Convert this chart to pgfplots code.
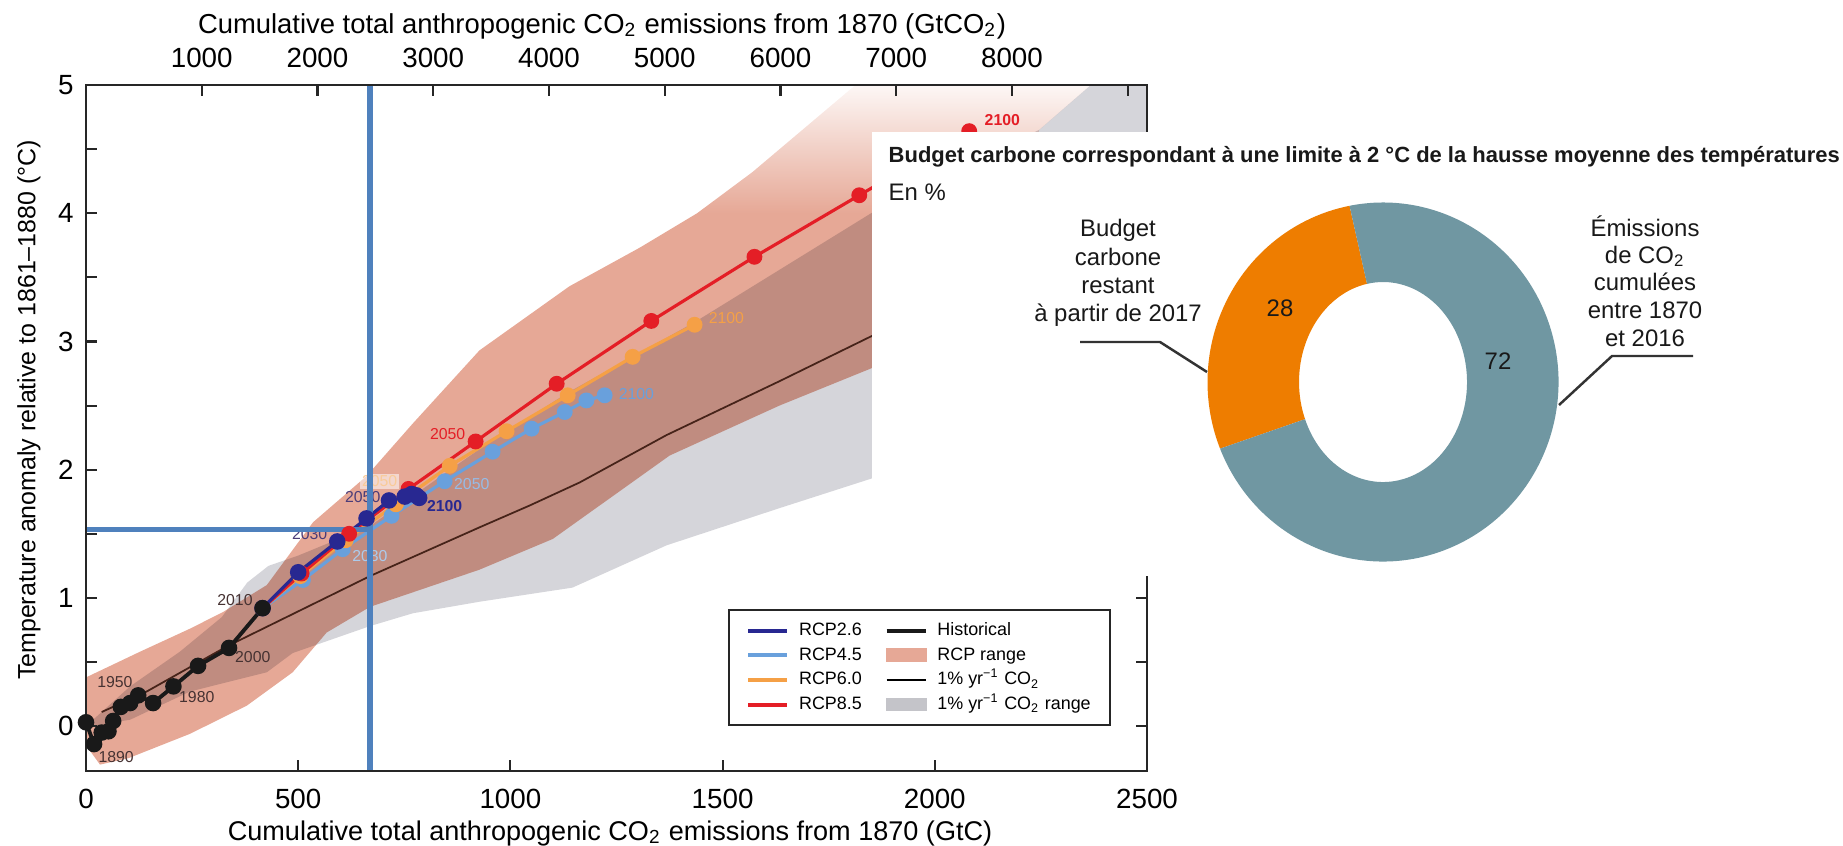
\documentclass[border=0pt]{standalone}
\usepackage{fontspec}
\setmainfont{Liberation Sans}
\usepackage{pgfplots}
\pgfplotsset{compat=1.18}
\definecolor{rcprange}{RGB}{230,168,150}
\definecolor{grayrange}{RGB}{213,213,218}
\definecolor{rcpA}{RGB}{40,40,145}
\definecolor{rcpB}{RGB}{105,160,220}
\definecolor{rcpC}{RGB}{245,160,70}
\definecolor{rcpD}{RGB}{228,30,38}
\definecolor{histc}{RGB}{25,25,25}
\definecolor{onepct}{RGB}{70,35,25}
\definecolor{guide}{RGB}{79,129,189}
\definecolor{donorange}{RGB}{238,125,0}
\definecolor{donteal}{RGB}{112,151,162}
\definecolor{yearc}{RGB}{70,50,50}
\newcommand{\yl}{\fontsize{4.5}{5}\selectfont}
\newcommand{\dfont}{\fontsize{6.8}{7.4}\selectfont}
\begin{document}
\begin{tikzpicture}
\path[use as bounding box] (0,0) rectangle (18.43,8.45);
% ---------------- main axis (GtC) ----------------
\begin{axis}[
  at={(0.86cm,0.74cm)}, anchor=south west,
  width=10.61cm, height=6.86cm, scale only axis,
  xmin=0, xmax=2500, ymin=-0.35, ymax=5,
  xtick={0,500,...,2500}, xtick pos=left,
  ytick={0,1,...,5}, minor ytick={0.5,1.5,2.5,3.5,4.5},
  ytick pos=both,
  tick align=inside,
  major tick length=0.11cm, minor tick length=0.11cm,
  axis line style={line width=0.6pt, black!85},
  every tick/.style={line width=0.6pt, black!85},
  tick label style={font=\fontsize{7.9}{9}\selectfont},
  xticklabel style={yshift=-1.5pt},
  /pgf/number format/assume math mode=true,
  /pgf/number format/1000 sep={},
  axis on top,
  legend style={
    at={(0.605,0.0656)}, anchor=south west,
    draw=black!85, line width=0.5pt, fill=white,
    font=\fontsize{5.1}{6}\selectfont,
    inner xsep=5pt, inner ysep=3pt,
    row sep=1.3pt, column sep=0pt,
    nodes={inner sep=0.5pt, text height=3.7pt, text depth=1pt},
    /tikz/every odd column/.append style={column sep=2.3pt},
    /tikz/every even column/.append style={column sep=6pt},
  },
  legend columns=2,
  legend cell align=left,
  legend image code/.code={\draw[#1] (0cm,0cm) -- (0.39cm,0cm);},
]
% RCP range (salmon)
\addplot[forget plot, draw=none, fill=rcprange] coordinates {
 (0,0.38) (127,0.58) (245,0.76) (323,0.89) (426,1.10) (535,1.59) (661,1.95)
 (770,2.36) (927,2.93) (1139,3.43) (1304,3.73) (1440,4.0) (2200,4.0) (2200,3.5)
 (1850,2.79) (1634,2.50) (1375,2.11) (1100,1.46) (927,1.22) (669,0.93) (567,0.73)
 (487,0.42) (379,0.16) (245,-0.06) (100,-0.25) (33,-0.30) (0,-0.15)} -- cycle;
% fading top part of RCP range
\addplot[forget plot, draw=none, top color=white, bottom color=rcprange] coordinates {
 (1440,4.0) (1570,4.32) (1806,4.98) (1850,5.1) (2403,5.1) (2246,4.65) (2200,4.0)} -- cycle;
% 1% yr-1 CO2 range (gray), multiplied over the RCP range
\addplot[forget plot, draw=none, fill=grayrange, blend mode=multiply] coordinates {
 (0,0) (104,0.31) (221,0.58) (320,0.85) (380,1.12) (430,1.25) (500,1.33) (669,1.56)
 (927,2.16) (1135,2.6) (1434,3.15) (1850,4.0) (2246,4.65) (2420,5.15) (2600,5.67)
 (2600,2.7) (2100,2.2) (1850,1.93) (1634,1.70) (1368,1.41) (1146,1.08) (927,0.97)
 (770,0.88) (669,0.78) (487,0.57) (426,0.42) (245,0.27) (104,0.05) (10,0)} -- cycle;
% 1% yr-1 CO2 line
\addplot[forget plot, onepct, line width=0.5pt] coordinates {
 (37,0.11) (143,0.27) (331,0.62) (669,1.17) (927,1.55) (1045,1.72) (1163,1.90)
 (1368,2.27) (1634,2.69) (1850,3.04) (2500,3.9)};
% RCP4.5
\addplot[forget plot, rcpB, line width=0.9pt, mark=*, mark size=1.8pt] coordinates {
 (416,0.92) (511,1.14) (605,1.38) (720,1.64) (845,1.91) (958,2.14) (1050,2.32)
 (1128,2.45) (1179,2.54) (1222,2.58)};
% RCP6.0
\addplot[forget plot, rcpC, line width=0.9pt, mark=*, mark size=1.8pt] coordinates {
 (416,0.92) (505,1.17) (612,1.45) (730,1.73) (857,2.03) (991,2.30) (1135,2.58)
 (1288,2.88) (1434,3.13)};
% RCP8.5
\addplot[forget plot, rcpD, line width=0.9pt, mark=*, mark size=1.8pt] coordinates {
 (416,0.92) (508,1.19) (620,1.50) (760,1.85) (918,2.22) (1109,2.67) (1332,3.16)
 (1575,3.66) (1822,4.14) (2081,4.64)};
% RCP2.6
\addplot[forget plot, rcpA, line width=0.9pt, mark=*, mark size=1.9pt] coordinates {
 (416,0.92) (500,1.20) (592,1.44) (661,1.62) (714,1.76) (751,1.79) (767,1.81)
 (778,1.80) (785,1.78)};
% Historical
\addplot[forget plot, histc, line width=1.1pt, mark=*, mark size=1.8pt] coordinates {
 (0,0.03) (19,-0.14) (37,-0.05) (53,-0.04) (64,0.04) (82,0.15) (104,0.18)
 (123,0.24) (158,0.18) (206,0.31) (264,0.47) (337,0.61) (416,0.92)};
% year labels
\node[font=\yl, text=yearc] at (axis cs:71,-0.24) {1890};
\node[font=\yl, text=yearc] at (axis cs:68,0.34) {1950};
\node[font=\yl, text=yearc] at (axis cs:261,0.23) {1980};
\node[font=\yl, text=yearc] at (axis cs:393,0.54) {2000};
\node[font=\yl, text=yearc] at (axis cs:351,0.98) {2010};
\node[font=\yl, text={rgb,255:red,75;green,60;blue,120}] at (axis cs:527,1.50) {2030};
\node[font=\yl, text={rgb,255:red,75;green,60;blue,120}] at (axis cs:652,1.79) {2050};
\node[font=\yl\bfseries, text=rcpA] at (axis cs:845,1.72) {2100};
\node[font=\yl, fill=white, fill opacity=0.55, text opacity=1, text=rcpC!55, inner sep=0.6pt] at (axis cs:692,1.91) {2050};
\node[font=\yl, text=rcpB!55] at (axis cs:669,1.33) {2030};
\node[font=\yl, text=rcpB!70] at (axis cs:909,1.89) {2050};
\node[font=\yl, text=rcpB] at (axis cs:1297,2.59) {2100};
\node[font=\yl, text=rcpC] at (axis cs:1509,3.18) {2100};
\node[font=\yl, text=rcpD] at (axis cs:852,2.28) {2050};
\node[font=\yl\bfseries, text=rcpD] at (axis cs:2159,4.73) {2100};
% guide lines
\addplot[forget plot, guide, line width=1.5pt] coordinates {(669,-0.35) (669,5)};
\addplot[forget plot, guide, line width=1.4pt] coordinates {(0,1.53) (669,1.53)};
% legend
\addlegendimage{rcpA, line width=1.1pt}\addlegendentry{RCP2.6}
\addlegendimage{histc, line width=1.1pt}\addlegendentry{Historical}
\addlegendimage{rcpB, line width=1.1pt}\addlegendentry{RCP4.5}
\addlegendimage{legend image code/.code={\fill[rcprange] (0cm,-0.06cm) rectangle (0.4cm,0.06cm);}}\addlegendentry{RCP range}
\addlegendimage{rcpC, line width=1.1pt}\addlegendentry{RCP6.0}
\addlegendimage{black, line width=0.5pt}\addlegendentry{1\% yr\textsuperscript{−1} CO\textsubscript{2}}
\addlegendimage{rcpD, line width=1.1pt}\addlegendentry{RCP8.5}
\addlegendimage{legend image code/.code={\fill[grayrange!92!black] (0cm,-0.06cm) rectangle (0.4cm,0.06cm);}}\addlegendentry{1\% yr\textsuperscript{−1} CO\textsubscript{2} range}
\end{axis}
% ---------------- top axis (GtCO2) ----------------
\begin{axis}[
  at={(0.86cm,0.74cm)}, anchor=south west,
  width=10.61cm, height=6.86cm, scale only axis,
  xmin=0, xmax=9166.67, ymin=0, ymax=1,
  axis x line*=top, axis y line=none,
  xtick={1000,2000,...,9000},
  xticklabels={1000,2000,3000,4000,5000,6000,7000,8000,{}},
  tick align=inside, major tick length=0.11cm,
  axis line style={line width=0.6pt, black!85},
  every tick/.style={line width=0.6pt, black!85},
  tick label style={font=\fontsize{7.9}{9}\selectfont},
  xticklabel style={yshift=1.5pt},
]
\end{axis}
% axis titles
\node[font=\fontsize{7.8}{9}\selectfont] at (6.02,8.19) {Cumulative total anthropogenic CO\textsubscript{2} emissions from 1870 (GtCO\textsubscript{2})};
\node[font=\fontsize{7.7}{9}\selectfont] at (6.10,0.12) {Cumulative total anthropogenic CO\textsubscript{2} emissions from 1870 (GtC)};
\node[font=\fontsize{7.1}{9}\selectfont, rotate=90] at (0.29,4.35) {Temperature anomaly relative to 1861–1880 (°C)};
% ---------------- overlay box with donut ----------------
\fill[white] (8.72,2.69) rectangle (18.43,7.13);
\node[font=\bfseries\fontsize{6.25}{7}\selectfont, anchor=base west, text=black!90, inner sep=0pt] at (8.88,6.83) {Budget carbone correspondant à une limite à 2 °C de la hausse moyenne des températures};
\node[font=\fontsize{6.8}{7.4}\selectfont, anchor=base west, text=black!90, inner sep=0pt] at (8.88,6.45) {En \%};
\def\restant{28}
\def\cumul{72}
\pgfmathsetmacro{\aS}{101}
\pgfmathsetmacro{\aE}{101+3.6*\restant}
\pgfmathsetmacro{\aF}{\aE+3.6*\cumul}
\begin{axis}[
  at={(13.83cm,4.63cm)}, anchor=center,
  width=3.51cm, height=3.59cm, scale only axis,
  axis lines=none, xmin=-1, xmax=1, ymin=-1, ymax=1, clip=false,
]
\fill[donorange] (axis cs:{cos(\aS)},{sin(\aS)}) arc[start angle=\aS, end angle=\aE, x radius=1.755cm, y radius=1.795cm]
  -- (axis cs:{0.4786*cos(\aE)},{0.557*sin(\aE)}) arc[start angle=\aE, end angle=\aS, x radius=0.84cm, y radius=1.0cm] -- cycle;
\fill[donteal] (axis cs:{cos(\aE)},{sin(\aE)}) arc[start angle=\aE, end angle=\aF, x radius=1.755cm, y radius=1.795cm]
  -- (axis cs:{0.4786*cos(\aF)},{0.557*sin(\aF)}) arc[start angle=\aF, end angle=\aE, x radius=0.84cm, y radius=1.0cm] -- cycle;
\end{axis}
\node[font=\dfont, text=black!90] at (12.80,5.37) {28};
\node[font=\dfont, text=black!90] at (14.98,4.84) {72};
\node[font=\dfont, anchor=base, text=black!90] at (11.18,6.09) {Budget};
\node[font=\dfont, anchor=base, text=black!90] at (11.18,5.80) {carbone};
\node[font=\dfont, anchor=base, text=black!90] at (11.18,5.52) {restant};
\node[font=\dfont, anchor=base, text=black!90] at (11.18,5.24) {à partir de 2017};
\node[font=\dfont, anchor=base, text=black!90] at (16.45,6.09) {Émissions};
\node[font=\dfont, anchor=base, text=black!90] at (16.45,5.82) {de CO\textsubscript{2}};
\node[font=\dfont, anchor=base, text=black!90] at (16.45,5.55) {cumulées};
\node[font=\dfont, anchor=base, text=black!90] at (16.45,5.27) {entre 1870};
\node[font=\dfont, anchor=base, text=black!90] at (16.45,4.99) {et 2016};
\draw[black!80, line width=0.7pt] (10.80,5.03) -- (11.60,5.03) -- (12.07,4.73);
\draw[black!80, line width=0.7pt] (16.93,4.89) -- (16.12,4.89) -- (15.59,4.40);
\end{tikzpicture}
\end{document}
